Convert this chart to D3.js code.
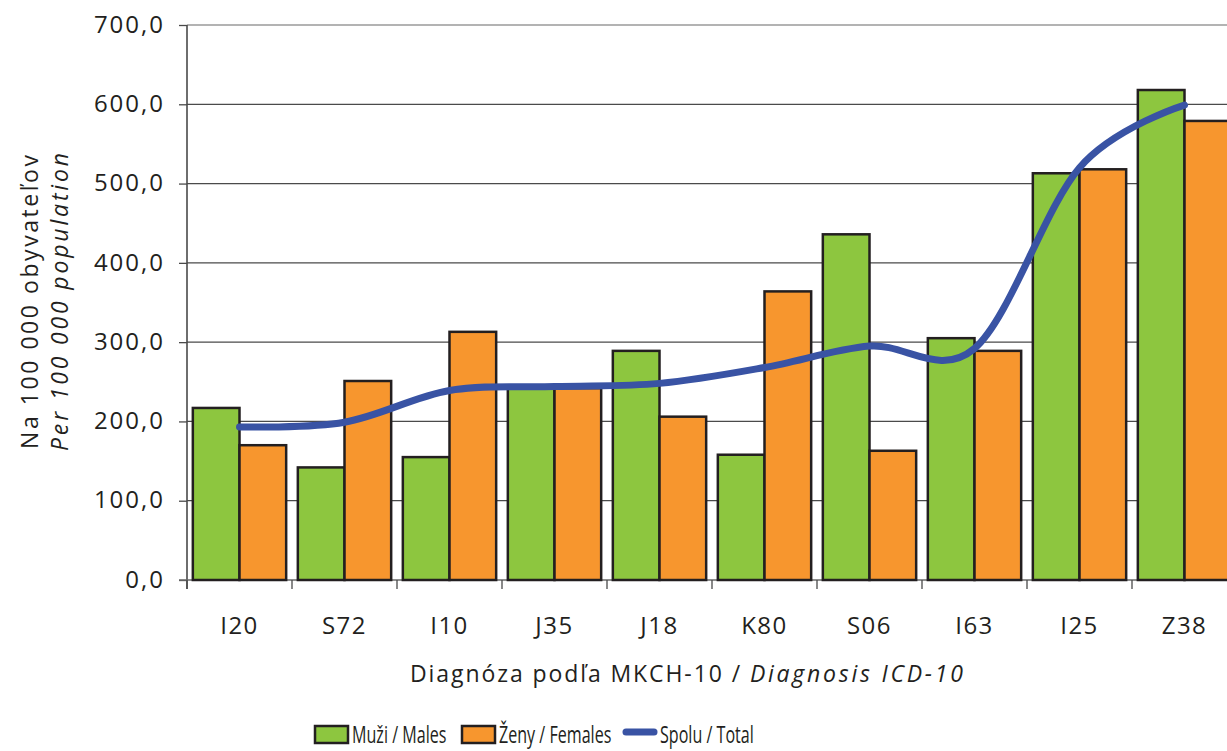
<!DOCTYPE html>
<html><head><meta charset="utf-8">
<script src="https://cdn.jsdelivr.net/npm/d3@7"></script>
<style>
body{margin:0;background:#fff;}
svg text{fill:#231f20;}
</style></head>
<body><svg id="c" width="1227" height="751"></svg>
<script>
const categories = ["I20","S72","I10","J35","J18","K80","S06","I63","I25","Z38"];
const males   = [217,142,155,242,289,158,436,305,513,618];
const females = [170,251,313,242,206,364,163,289,518,579];
const totals  = [193,199,239,244,248,268,295,292,520,599];
const yTicks  = [0,100,200,300,400,500,600,700];
const seriesNames = ["Muži / Males","Ženy / Females","Spolu / Total"];

const svg = d3.select("#c");
const x = d3.scaleBand().domain(categories).range([187, 1237]).paddingInner(0).paddingOuter(0);
const y = d3.scaleLinear().domain([0,700]).range([580,25]);
const inner = d3.scaleBand().domain(["m","f"]).range([0, x.bandwidth()]).paddingOuter(0.125).paddingInner(0);
const font = "'Open Sans', sans-serif";

// gridlines
svg.append("g").selectAll("line").data(yTicks.filter(d=>d>0)).join("line")
  .attr("x1",187).attr("x2",1227).attr("y1",d=>y(d)).attr("y2",d=>y(d))
  .attr("stroke",d=>d===700?"#9a9a9a":"#4a4a4a").attr("stroke-width",1.3);

// y axis
const ya = svg.append("g").attr("transform","translate(187,0)")
  .call(d3.axisLeft(y).tickValues(yTicks).tickSize(8).tickPadding(14)
    .tickFormat(d=>d3.format(".1f")(d).replace(".",",")));
ya.select(".domain").remove();
ya.selectAll(".tick line").attr("stroke","#4a4a4a").attr("stroke-width",1.3);
ya.selectAll("text").attr("font-family",font).attr("font-size",24).attr("letter-spacing","2px")
  .attr("fill","#231f20").attr("dy","0.3em");
svg.append("line").attr("x1",187).attr("x2",187).attr("y1",25).attr("y2",589)
  .attr("stroke","#4a4a4a").attr("stroke-width",1.6);

// x axis
svg.append("line").attr("x1",179).attr("x2",1227).attr("y1",580).attr("y2",580)
  .attr("stroke","#6a6a6a").attr("stroke-width",1.3);
svg.append("g").selectAll("line").data(categories).join("line")
  .attr("x1",d=>x(d)).attr("x2",d=>x(d)).attr("y1",580).attr("y2",589)
  .attr("stroke","#4a4a4a").attr("stroke-width",1.3);
svg.append("g").selectAll("text").data(categories).join("text")
  .attr("x",d=>x(d)+x.bandwidth()/2).attr("y",634).attr("text-anchor","middle")
  .attr("font-family",font).attr("font-size",24).attr("letter-spacing","1.5px").text(d=>d);

// bars
const bars = svg.append("g");
bars.selectAll("rect.m").data(categories).join("rect").attr("class","m")
  .attr("x",(d)=>x(d)+inner("m")).attr("width",inner.bandwidth())
  .attr("y",(d,i)=>y(males[i])).attr("height",(d,i)=>y(0)-y(males[i]))
  .attr("fill","#8dc63f").attr("stroke","#231f20").attr("stroke-width",2.5);
bars.selectAll("rect.f").data(categories).join("rect").attr("class","f")
  .attr("x",(d)=>x(d)+inner("f")).attr("width",inner.bandwidth())
  .attr("y",(d,i)=>y(females[i])).attr("height",(d,i)=>y(0)-y(females[i]))
  .attr("fill","#f7962e").attr("stroke","#231f20").attr("stroke-width",2.5);

// total line
const line = d3.line().x(d=>x(d[0])+x.bandwidth()/2).y(d=>y(d[1])).curve(d3.curveCardinal.tension(0));
svg.append("path").datum(categories.map((c,i)=>[c,totals[i]]))
  .attr("d",line).attr("fill","none").attr("stroke","#3953a4").attr("stroke-width",7).attr("stroke-linecap","round");

// axis titles
const yt = svg.append("g").attr("transform","translate(0,302) rotate(-90)");
yt.append("text").attr("x",0).attr("y",38).attr("text-anchor","middle")
  .attr("font-family",font).attr("font-size",23).attr("textLength",294).attr("lengthAdjust","spacing")
  .text("Na 100 000 obyvateľov");
yt.append("text").attr("x",0).attr("y",68).attr("text-anchor","middle")
  .attr("font-family",font).attr("font-size",23).attr("font-style","italic")
  .attr("textLength",298).attr("lengthAdjust","spacing").text("Per 100 000 population");

const xt = svg.append("text").attr("x",410).attr("y",682)
  .attr("font-family",font).attr("font-size",23);
xt.append("tspan").attr("textLength",338).attr("lengthAdjust","spacing").text("Diagnóza podľa MKCH-10 / ");
xt.append("tspan").attr("font-style","italic").attr("textLength",213).attr("lengthAdjust","spacing").text("Diagnosis ICD-10");

// legend
const leg = svg.append("g");
const colors = ["#8dc63f","#f7962e","#3953a4"];
const lx = [315, 462, 623];
seriesNames.forEach((n,i)=>{
  if(i<2){
    leg.append("rect").attr("x",lx[i]).attr("y",726).attr("width",33).attr("height",17)
      .attr("fill",colors[i]).attr("stroke","#231f20").attr("stroke-width",2.5);
  } else {
    leg.append("line").attr("x1",lx[i]+3).attr("x2",lx[i]+31).attr("y1",732).attr("y2",732)
      .attr("stroke",colors[i]).attr("stroke-width",7).attr("stroke-linecap","round");
  }
  leg.append("text").attr("transform",`translate(${lx[i]+37},743) scale(0.7,1)`)
    .attr("font-family",font).attr("font-size",23).text(n);
});
</script></body></html>
